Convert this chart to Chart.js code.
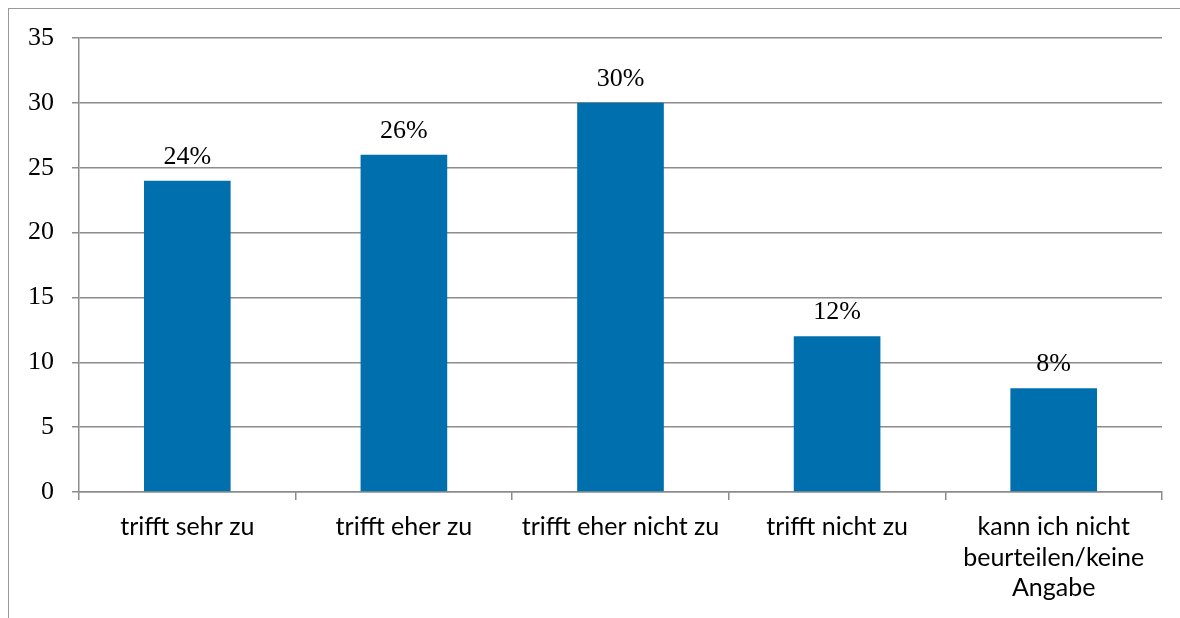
<!DOCTYPE html>
<html lang="de">
<head>
  <meta charset="UTF-8" />
  <title>Umfrage – Zustimmung</title>
  <script src="https://cdn.jsdelivr.net/npm/chart.js"></script>
  <style>
    html, body { margin: 0; padding: 0; background: #fff; }
    #wrap { position: relative; width: 1180px; height: 618px; }
    #frame { position: absolute; left: 8px; top: 8px; right: 0; bottom: 0;
             border-left: 1px solid #9a9a9a; border-top: 1px solid #9a9a9a; pointer-events: none; }
    canvas { position: absolute; left: 0; top: 0; }
  </style>
</head>
<body>
  <div id="wrap">
    <canvas id="bars" width="1180" height="618"></canvas>
    <div id="frame"></div>
  </div>

  <script>
    // answers (multi-line labels as arrays)
    const categories = [
      "trifft sehr zu",
      "trifft eher zu",
      "trifft eher nicht zu",
      "trifft nicht zu",
      ["kann ich nicht", "beurteilen/keine", "Angabe"]
    ];
    const shares = [24, 26, 30, 12, 8];
    const yMin = 0, yMax = 35, yStep = 5;

    const barBlue = "#006fae";
    const gridGrey = "#8c8c8c";

    // percent labels above each bar
    const valueLabels = {
      id: "valueLabels",
      afterDatasetsDraw(chart) {
        const ctx = chart.ctx;
        const meta = chart.getDatasetMeta(0);
        ctx.save();
        ctx.font = "26px 'Liberation Serif'";
        ctx.fillStyle = "#000";
        ctx.textAlign = "center";
        ctx.textBaseline = "alphabetic";
        meta.data.forEach((bar, i) => {
          ctx.fillText(shares[i] + "%", bar.x, bar.y - 17);
        });
        ctx.restore();
      }
    };

    new Chart(document.getElementById("bars"), {
      type: "bar",
      data: {
        labels: categories,
        datasets: [{
          data: shares,
          backgroundColor: barBlue,
          borderWidth: 0,
          barPercentage: 0.4,
          categoryPercentage: 1
        }]
      },
      options: {
        responsive: false,
        animation: false,
        layout: { padding: { left: 0, top: 38, right: 18, bottom: 0 } },
        plugins: { legend: { display: false }, tooltip: { enabled: false } },
        scales: {
          x: {
            offset: true,
            grid: { offset: true, drawOnChartArea: false, drawTicks: true, tickLength: 8, color: gridGrey, lineWidth: 1.5 },
            border: { display: true, color: gridGrey, width: 1.5 },
            ticks: { color: "#000", padding: 12, maxRotation: 0, autoSkip: false,
                     font: { family: "Lato", size: 25, lineHeight: 1.22 } },
            afterFit(scale) { scale.height = 126; }
          },
          y: {
            min: yMin, max: yMax,
            grid: { color: gridGrey, lineWidth: 1.5, tickLength: 7 },
            border: { display: true, color: gridGrey, width: 1.5 },
            ticks: { stepSize: yStep, color: "#000", padding: 18,
                     font: { family: "Liberation Serif", size: 26 } },
            afterFit(scale) { scale.width = 79; }
          }
        }
      },
      plugins: [valueLabels]
    });
  </script>
</body>
</html>
